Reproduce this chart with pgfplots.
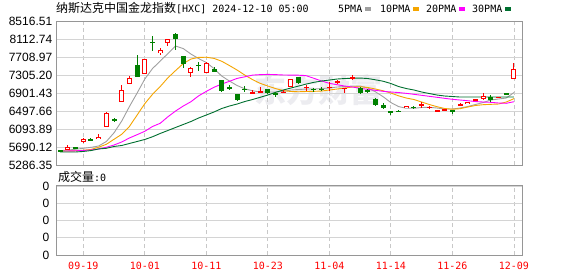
\documentclass[border=0pt]{standalone}
\usepackage{fontspec}
\setmainfont{Liberation Sans}
\newfontfamily\cjk{Noto Sans CJK SC}
\newfontfamily\mono{DejaVu Sans Mono}
\usepackage{pgfplots}
\usepackage{pgfplotstable}
\pgfplotsset{compat=1.18}
\definecolor{cred}{RGB}{255,0,0}
\definecolor{cgreen}{RGB}{0,128,0}
\definecolor{ma5}{RGB}{160,160,160}
\definecolor{ma10}{RGB}{245,165,0}
\definecolor{ma20}{RGB}{255,0,255}
\definecolor{ma30}{RGB}{0,112,48}
\definecolor{frame}{RGB}{150,150,150}
\definecolor{hgrid}{RGB}{212,212,212}
\definecolor{vgrid}{RGB}{200,200,200}
\definecolor{wm}{RGB}{236,236,240}

% red (up) candles: index, open, high, low, close
\pgfplotstableread{
i O H L C
0 5631 5730 5624 5692
2 5810 5887 5788 5871
4 5865 5984 5865 5923
5 6147 6478 6147 6448
7 6695 7077 6695 6972
8 7100 7286 7100 7234
10 7324 7661 7324 7661
12 7802 7921 7764 7863
13 8034 8110 7960 8110
16 7360 7495 7270 7459
18 7360 7607 7347 7571
24 6889 6972 6889 6927
25 6911 7046 6911 6956
28 6904 6972 6904 6933
29 7035 7212 7032 7210
31 7016 7084 6956 7046
34 7016 7158 6949 7046
35 7145 7196 7106 7165
36 7005 7023 6897 7025
37 7240 7308 7196 7260
44 6560 6612 6560 6612
46 6612 6695 6560 6652
47 6575 6612 6538 6595
48 6492 6530 6470 6510
49 6515 6545 6495 6532
51 6612 6680 6612 6652
52 6650 6709 6650 6709
53 6724 6769 6724 6769
54 6776 6911 6747 6837
56 6798 6825 6790 6815
58 7212 7585 7212 7436
}\redtable

% green (down) candles
\pgfplotstableread{
i O H L C
-1 5618 5618 5600 5603
1 5698 5698 5640 5640
3 5868 5900 5820 5845
6 6308 6336 6253 6288
9 7533 7757 7270 7270
11 8060 8184 7854 8038
14 8240 8250 7880 8115
15 7735 7735 7459 7555
17 7538 7593 7398 7518
19 7450 7495 7383 7383
20 7190 7196 6933 6950
21 7032 7084 6972 7012
22 6882 6882 6724 6747
23 7003 7061 6927 6983
26 6994 6994 6882 6911
27 6897 6933 6808 6877
30 7257 7257 7100 7122
32 6997 7023 6927 6977
33 7002 7030 6940 6982
38 7010 7046 6882 6911
39 6965 6994 6897 6945
40 6763 6785 6612 6635
41 6646 6673 6538 6574
42 6492 6507 6417 6472
43 6507 6530 6470 6487
45 6590 6620 6545 6570
50 6531 6531 6432 6477
55 6822 6852 6709 6747
57 6897 6911 6852 6852
}\greentable

% moving averages: 5, 10, 20, 30
\pgfplotstableread{
i g o m d
-1 5609 5602 5602 5579
0 5622 5602 5602 5579
1 5640 5606 5606 5579
2 5662 5618 5613 5591
3 5683 5636 5624 5611
4 5714 5687 5647 5647
5 5815 5752 5685 5662
6 6011 5865 5736 5703
7 6275 5977 5804 5725
8 6601 6152 5894 5770
9 6904 6410 5968 5815
10 7219 6666 6044 5860
11 7454 6875 6152 5921
12 7623 7050 6224 5995
13 7791 7246 6370 6062
14 7960 7409 6500 6130
15 7903 7567 6612 6197
16 7780 7668 6709 6264
17 7679 7706 6841 6343
18 7589 7708 6942 6410
19 7454 7683 7034 6478
20 7286 7618 7106 6556
21 7174 7522 7167 6612
22 7073 7421 7233 6657
23 6999 7308 7269 6713
24 6956 7207 7307 6758
25 6927 7122 7318 6808
26 6927 7061 7323 6859
27 6927 7005 7318 6920
28 6938 6960 7310 6972
29 6972 6938 7307 7017
30 6983 6933 7305 7061
31 6994 6938 7293 7106
32 6994 6942 7234 7145
33 7005 6949 7174 7174
34 7017 6972 7122 7196
35 7039 6994 7091 7219
36 7050 7017 7061 7230
37 7061 7039 7039 7237
38 7061 7046 7010 7241
39 7017 7028 6987 7230
40 6930 6994 6965 7201
41 6820 6954 6942 7169
42 6690 6904 6927 7118
43 6600 6841 6915 7050
44 6561 6792 6897 7005
45 6561 6758 6875 6972
46 6579 6702 6853 6927
47 6583 6646 6830 6893
48 6567 6597 6808 6859
49 6545 6556 6785 6837
50 6545 6540 6763 6826
51 6567 6552 6747 6814
52 6601 6590 6731 6814
53 6646 6624 6713 6814
54 6691 6642 6702 6814
55 6747 6650 6695 6814
56 6770 6657 6680 6814
57 6792 6702 6673 6814
58 6915 6778 6709 6814
}\matable

\pgfplotsset{
  panel/.style={
    scale only axis, anchor=south west,
    width=466pt,
    xmin=-1.55, xmax=59.05,
    axis line style={frame, line width=1pt},
    major tick length=0pt,
    xtick={2,10,18,26,34,42,50,58},
    xmajorgrids, ymajorgrids,
    y grid style={hgrid, line width=0.8pt},
    x grid style={vgrid, line width=0.8pt, dash pattern=on 4pt off 3pt},
  },
  wick/.style={draw=none, forget plot,
    error bars/.cd, y dir=both, y explicit, error mark=none,
    error bar style={#1, line width=1pt}},
  body/.style 2 args={draw=none, forget plot,
    error bars/.cd, y dir=both, y explicit, error mark=none,
    error bar style={#1, line width=#2}},
}

\begin{document}
\begin{tikzpicture}
\useasboundingbox (0pt,0pt) rectangle (578pt,276pt);
\fill[white] (0pt,0pt) rectangle (578pt,276pt);

% watermark
\node[text=wm, font=\cjk\bfseries\fontsize{32}{32}\selectfont] at (318pt,186pt) {东方财富};

% title and legend
\node[anchor=west, inner sep=0pt] at (56pt,268pt)
  {\cjk\fontsize{12}{12}\selectfont 纳斯达克中国金龙指数{\mono\fontsize{10}{10}\selectfont[HXC] 2024-12-10 05:00}};
\node[anchor=west, inner sep=0pt, font=\mono\fontsize{10}{10}\selectfont] at (338pt,267pt) {5PMA};
\fill[ma5] (365pt,265.3pt) rectangle (371pt,268.7pt);
\node[anchor=west, inner sep=0pt, font=\mono\fontsize{10}{10}\selectfont] at (380pt,267pt) {10PMA};
\fill[ma10] (413pt,265.3pt) rectangle (419pt,268.7pt);
\node[anchor=west, inner sep=0pt, font=\mono\fontsize{10}{10}\selectfont] at (426pt,267pt) {20PMA};
\fill[ma20] (459pt,265.3pt) rectangle (465pt,268.7pt);
\node[anchor=west, inner sep=0pt, font=\mono\fontsize{10}{10}\selectfont] at (472pt,267pt) {30PMA};
\fill[ma30] (505pt,265.3pt) rectangle (511pt,268.7pt);

% price panel
\begin{axis}[panel,
  at={(56pt,111pt)}, height=143.7pt,
  ymin=5286.35, ymax=8516.51,
  xticklabels={},
  ytick={5286.35,5690.12,6093.89,6497.66,6901.43,7305.20,7708.97,8112.74,8516.51},
  yticklabels={5286.35,5690.12,6093.89,6497.66,6901.43,7305.20,7708.97,8112.74,8516.51},
  yticklabel style={font=\fontsize{12}{12}\selectfont, anchor=east, inner sep=0pt, xshift=-3.6pt},
]
\addplot[ma5, line width=0.9pt, mark=none, forget plot] table[x=i, y=g] {\matable};
\addplot[ma10, line width=0.9pt, mark=none, forget plot] table[x=i, y=o] {\matable};
\addplot[ma20, line width=0.9pt, mark=none, forget plot] table[x=i, y=m] {\matable};
\addplot[ma30, line width=0.9pt, mark=none, forget plot] table[x=i, y=d] {\matable};

% green candles
\addplot[wick=cgreen] table[x=i, y expr={(\thisrow{H}+\thisrow{L})/2}, y error expr={(\thisrow{H}-\thisrow{L})/2}] {\greentable};
\addplot[body={cgreen}{5pt}] table[x=i, y expr={(\thisrow{O}+\thisrow{C})/2}, y error expr={max(abs(\thisrow{O}-\thisrow{C})/2,12)}] {\greentable};
% red candles (hollow)
\addplot[wick=cred] table[x=i, y expr={(\thisrow{H}+\thisrow{L})/2}, y error expr={(\thisrow{H}-\thisrow{L})/2}] {\redtable};
\addplot[body={cred}{5pt}] table[x=i, y expr={(\thisrow{O}+\thisrow{C})/2}, y error expr={max(abs(\thisrow{C}-\thisrow{O})/2,12)}] {\redtable};
\addplot[body={white}{3pt}] table[x=i, y expr={(\thisrow{O}+\thisrow{C})/2}, y error expr={max(abs(\thisrow{C}-\thisrow{O})/2-22.5,0)}] {\redtable};
\end{axis}

\node[anchor=west, inner sep=0pt] at (58pt,99pt)
  {\cjk\fontsize{12}{12}\selectfont 成交量{\mono\fontsize{10}{10}\selectfont:0}};

% volume panel
\begin{axis}[panel,
  at={(56pt,21pt)}, height=69pt,
  ymin=0, ymax=4,
  ytick={0,1,2,3,4},
  yticklabels={0,0,0,0,0},
  yticklabel style={font=\fontsize{12}{12}\selectfont, anchor=east, inner sep=0pt, xshift=-6.5pt},
  xticklabels={09-19,10-01,10-11,10-23,11-04,11-14,11-26,12-09},
  xticklabel style={font=\mono\fontsize{10}{10}\selectfont, text=cred, anchor=center, inner sep=0pt, yshift=-11pt},
]
\addplot[draw=none, mark=none] coordinates {(-1,0) (10,0) (20,0) (30,0) (40,0) (50,0) (58,0)};
\end{axis}
\end{tikzpicture}
\end{document}
